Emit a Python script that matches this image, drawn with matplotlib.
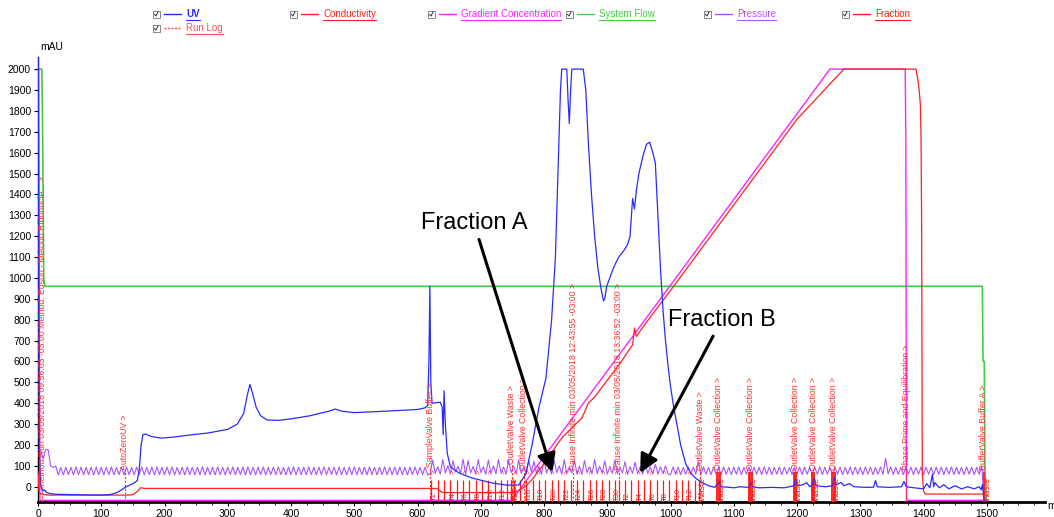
import numpy as np
import matplotlib
matplotlib.use("Agg")
import matplotlib.pyplot as plt
from matplotlib.lines import Line2D
from matplotlib.patches import Rectangle

plt.rcParams['font.family'] = ['Liberation Sans', 'DejaVu Sans']

# ---------------- data ----------------
uv_x = [0, 0.3, 2, 4, 7, 10, 14, 20, 30, 60, 100, 115, 125, 132, 138, 145, 152, 157, 160, 163,
        166, 170, 180, 195, 215, 240, 270, 300, 315, 325, 331, 335, 339, 345, 352, 362, 380, 400,
        430, 460, 470, 480, 500, 550, 600, 612, 616, 618, 619.5, 621, 623, 636, 639, 640.5, 642,
        644, 647, 652, 666, 686, 718, 740, 760, 771, 781, 792, 803, 812, 818, 822, 826, 828,
        836, 838, 840, 842, 844, 862, 866, 870, 875, 880, 885, 890, 894, 896, 899, 904, 910, 918,
        926, 932, 936, 940, 943, 946, 950, 956, 962, 967, 972, 976, 980, 984, 988, 992, 996, 1000,
        1005, 1010, 1016, 1024, 1032, 1040, 1050, 1060, 1070, 1074, 1077, 1080, 1090, 1100, 1110,
        1124, 1127, 1130, 1140, 1160, 1180, 1195, 1198, 1201, 1210, 1215, 1220, 1224, 1227, 1230,
        1245, 1256, 1259, 1262, 1270, 1274, 1283, 1290, 1310, 1321, 1324, 1327, 1345, 1365, 1369,
        1373, 1385, 1400, 1405, 1410, 1414, 1416, 1418, 1425, 1432, 1440, 1450, 1460, 1470, 1480,
        1488, 1491, 1493, 1496]
uv_y = [2100, 2100, 200, 10, -20, -15, -28, -33, -36, -38, -40, -37, -28, -15, -2, 8, 18, 30, 80, 200,
        250, 252, 240, 233, 238, 248, 258, 275, 300, 350, 440, 490, 450, 380, 340, 320, 318, 325,
        340, 362, 372, 362, 355, 362, 370, 378, 390, 600, 960, 500, 400, 405, 380, 250, 460,
        300, 160, 95, 65, 42, 18, 8, 8, 60, 200, 380, 520, 800, 1100, 1500, 1900, 2000,
        2000, 1850, 1740, 1900, 2000, 2000, 1900, 1650, 1400, 1200, 1050, 950, 890, 900, 960, 1000, 1050, 1100,
        1130, 1160, 1200, 1380, 1330, 1420, 1500, 1580, 1640, 1650, 1600, 1550, 1300, 1050, 850, 700, 580, 480,
        380, 300, 200, 110, 65, 40, 20, 5, -3, 15, 25, 0, -2, -5, 0,
        -3, 20, 0, -5, -3, -5, 5, 35, 5, 10, 20, 0, 10, 40, 5,
        0, 5, 45, 10, 20, 5, 15, 0, -3, -2, 30, 0, -3, 0, 25,
        0, -5, -10, 15, -5, 60, 0, 20, -5, 10, -10, 5, -10, 0, -10,
        0, -15, 10, -70]

cond_x = [0, 2, 5, 10, 20, 100, 140, 150, 158, 162, 170, 630, 640, 745, 755, 770, 780, 790, 800,
          810, 820, 830, 840, 850, 860, 870, 880, 890, 900, 920, 940, 943, 946, 960, 1000, 1100,
          1200, 1274, 1388, 1391, 1393, 1395, 1396, 1397, 1398, 1400, 1403, 1405, 1494, 1498]
cond_y = [70, -30, -35, -38, -40, -40, -40, -38, -20, -5, -8, -8, -28, -28, -25, 0, 30, 70, 110,
          150, 200, 240, 270, 300, 330, 400, 430, 470, 510, 590, 680, 760, 720, 780, 940, 1350,
          1760, 2000, 2000, 1950, 1900, 1830, 1670, 1250, 65, -20, -35, -35, -35, -70]

grad_x = [0, 1, 2, 3, 749, 1252, 1371, 1372, 1373, 1500]
grad_y = [2000, 2000, 950, -65, -65, 2000, 2000, 1660, -65, -65]

flow_x = [0, 6, 7, 9, 11, 1493, 1494, 1496, 1497, 1499]
flow_y = [2000, 2000, 1820, 1000, 960, 960, 600, 600, 100, -70]

pressure_step = 4  # ml between samples
pressure_y = [
    175, 178, 132, 178, 178, 100, 92, 100, 56, 92,
    57, 94, 58, 93, 57, 95, 58, 94, 57, 93,
    58, 94, 57, 95, 58, 93, 57, 94, 58, 95,
    57, 93, 58, 94, 57, 95, 58, 93, 57, 94,
    58, 95, 57, 93, 58, 94, 57, 95, 58, 93,
    57, 94, 58, 95, 57, 93, 58, 94, 57, 95,
    58, 93, 57, 94, 58, 95, 57, 93, 58, 94,
    57, 95, 58, 93, 57, 94, 58, 95, 57, 93,
    58, 94, 57, 95, 58, 93, 57, 94, 58, 95,
    57, 93, 58, 94, 57, 95, 58, 93, 57, 94,
    58, 95, 57, 93, 58, 94, 57, 95, 58, 93,
    57, 94, 58, 95, 57, 93, 58, 94, 57, 95,
    58, 93, 57, 94, 58, 95, 57, 93, 58, 94,
    57, 95, 58, 93, 57, 94, 58, 95, 57, 93,
    58, 94, 57, 95, 58, 93, 57, 94, 58, 95,
    57, 93, 58, 94, 57,
    62, 128, 64, 96, 60, 130, 66, 100, 62, 126,
    70, 98, 64, 132, 60, 125, 66, 97, 62, 130,
    68, 96, 60, 128, 64, 100, 62, 131, 66, 95,
    60, 127, 68, 99, 62, 130, 64, 96, 66, 126,
    70, 122, 64, 98, 60, 129, 66, 97, 62, 127,
    68, 100, 60, 130, 64, 94, 66, 128, 62, 99,
    60, 126, 68, 96, 64, 131, 62, 98, 66, 124,
    60, 97, 64, 128, 62, 95, 66, 120, 60, 96,
    64, 118, 62, 94, 60, 112, 64, 95, 62, 108,
    60, 96, 64, 100, 62,
    58, 95, 60, 94, 58, 93, 60, 95, 58, 94,
    60, 120, 58, 95, 60, 93, 58, 95, 60, 94,
    58, 95, 60, 93, 58, 94, 60, 95, 58, 93,
    60, 95, 58, 94, 60, 93, 58, 95, 60, 94,
    58, 93, 60, 95, 58, 94, 60, 93, 58, 95,
    60, 94, 58, 95, 60, 93, 58, 94, 60, 95,
    58, 94, 60, 93, 58, 95, 60, 94, 58, 93,
    60, 95, 58, 94, 60, 93, 58, 95, 60, 94,
    58, 93, 60, 95, 60, 137, 62, 95, 58, 94,
    60, 93, 58, 95, 60, 94, 58, 93, 60, 95,
    58, 94, 60, 93, 58, 95, 60, 94, 58, 93,
    60, 95, 58, 94, 60, 93, 58, 95, 60, 94,
    58, 93, 60, 100, -70,
]
pressure_x = np.arange(len(pressure_y)) * pressure_step

frac_ticks = [622, 632, 642, 652, 662, 672, 682, 692, 702, 712, 722, 732, 742, 748, 752, 762, 772,
              782, 792, 802, 812, 822, 832, 842, 852, 862, 872, 882, 892, 902, 912,
              918, 928, 938, 948, 958, 968, 978, 988, 998, 1008, 1018, 1028, 1038, 1045]
frac_thick = [1074, 1076, 1078, 1124, 1126, 1128, 1195, 1197, 1199, 1223, 1225, 1227,
              1256, 1258, 1260, 1496]
frac_label_x = [622, 652, 672, 692, 712, 732, 752, 772, 792, 812, 832, 852, 872, 892, 912,
                928, 948, 968, 988, 1008, 1028]
frac_labels = ["T1", "T4", "T6", "T8", "T10", "T12", "T14", "T16", "T18", "T20", "T22", "T24",
               "T26", "T28", "T30", "T2", "T4", "T6", "T8", "T10", "T12"]
waste_x = [748, 1045, 1076, 1126, 1197, 1225, 1258, 1496]

runlog_x = [7, 137, 620, 749, 768, 846, 918, 1047, 1076, 1126, 1197, 1226, 1258, 1373, 1494]
runlog_text = [
    "Method Run 03/05/2018 09:56:03 -03:00 Method: Edson - Método Ribonucle... >",
    "AutoZeroUV >",
    "SampleValve Buffer >",
    "OutletValve Waste >",
    "OutletValve Collection >",
    "Pause Infinite min 03/05/2018 12:43:55 -03:00 >",
    "Pause Infinite min 03/05/2018 13:36:52 -03:00 >",
    "OutletValve Waste >",
    "OutletValve Collection >",
    "OutletValve Collection >",
    "OutletValve Collection >",
    "OutletValve Collection >",
    "OutletValve Collection >",
    "Phase Prime and Equilibration >",
    "BufferValve Buffer A >",
]
runlog_base = [-5, 80, 95, 110, 80, 80, 80, 80, 80, 80, 80, 80, 80, 80, 80]

y_ticks = list(range(0, 2001, 100))
x_ticks = list(range(0, 1501, 100))

# ---------------- colours ----------------
C_UV = "#2a2aff"
C_COND = "#ff2020"
C_GRAD = "#ff22ff"
C_FLOW = "#44cc44"
C_PRES = "#a855ff"
C_FRAC = "#ff1a1a"
C_LOG = "#ff3030"

W, H = 1054, 517
fig = plt.figure(figsize=(W / 100, H / 100), dpi=100)
fig.patch.set_facecolor("white")

x0p, x1p, y0p, y1p = 38, 1045, 502, 57
ax = fig.add_axes([x0p / W, (H - y0p) / H, (x1p - x0p) / W, (y0p - y1p) / H])
ax.set_xlim(0, 1592)
ax.set_ylim(-73, 2058)

ax.plot(flow_x, flow_y, color=C_FLOW, lw=1.2, zorder=2)
ax.plot(grad_x, grad_y, color=C_GRAD, lw=1.0, zorder=3)
ax.plot(cond_x, cond_y, color=C_COND, lw=0.9, zorder=4)
ax.plot(pressure_x, pressure_y, color=C_PRES, lw=0.8, zorder=3)
ax.plot(uv_x, uv_y, color=C_UV, lw=0.9, zorder=5)

# fraction ticks
ax.vlines(frac_ticks, -73, 30, color=C_FRAC, lw=0.9, zorder=4)
ax.vlines(frac_thick, -73, 70, color=C_FRAC, lw=1.3, zorder=4)
for fx, fl in zip(frac_label_x, frac_labels):
    ax.text(fx + 4, -66, fl, rotation=90, fontsize=5.5, color=C_FRAC, ha="center", va="bottom", zorder=6)
    ax.text(fx + 4, 60, ">", rotation=90, fontsize=5.5, color=C_LOG, ha="center", va="bottom", zorder=6)
for wx in waste_x:
    ax.text(wx + 5, -70, "Waste", rotation=90, fontsize=6.2, color=C_FRAC, ha="center", va="bottom", zorder=6)

# run log
for rx, rt, rb in zip(runlog_x, runlog_text, runlog_base):
    ax.plot([rx, rx], [-73, rb], color=C_LOG, lw=0.8, ls=(0, (2, 1.5)), zorder=4)
    ax.text(rx, rb, rt, rotation=90, fontsize=6.3, color=C_LOG, ha="center", va="bottom", zorder=6)

# axes styling
for s in ["top", "right"]:
    ax.spines[s].set_visible(False)
ax.spines["left"].set_linewidth(1.0)
ax.spines["bottom"].set_linewidth(2.0)
ax.set_xticks(x_ticks)
ax.set_xticks(list(range(0, 1592, 25)), minor=True)
ax.set_yticks(y_ticks)
ax.tick_params(axis="both", labelsize=7.5, length=3, width=0.8, colors="black", pad=2)
ax.tick_params(axis="x", which="minor", length=2, width=0.6)
ax.set_xticklabels([str(v) for v in x_ticks])
ax.set_yticklabels([str(v) for v in y_ticks])

fig.text(40 / W, 1 - 47 / H, "mAU", fontsize=7.5, ha="left", va="center")
fig.text(1047 / W, 1 - 506 / H, "ml", fontsize=7.5, ha="left", va="center")

# annotations
ax.annotate("Fraction A", xy=(813, 70), xytext=(689, 1263), fontsize=17, ha="center", va="center",
            arrowprops=dict(arrowstyle="-|>", color="black", lw=2.2, mutation_scale=28,
                            shrinkA=2, shrinkB=0), zorder=10)
ax.annotate("Fraction B", xy=(952, 66), xytext=(1081, 799), fontsize=17, ha="center", va="center",
            arrowprops=dict(arrowstyle="-|>", color="black", lw=2.2, mutation_scale=28,
                            shrinkA=2, shrinkB=0), zorder=10)

# legend drawn manually
legend_items = [
    (156, 14, "UV", C_UV, "-"),
    (293, 14, "Conductivity", C_COND, "-"),
    (431, 14, "Gradient Concentration", C_GRAD, "-"),
    (569, 14, "System Flow", C_FLOW, "-"),
    (707, 14, "Pressure", C_PRES, "-"),
    (845, 14, "Fraction", C_FRAC, "-"),
    (156, 28, "Run Log", "#ff5050", ":"),
]
for cx, cy, lab, col, ls in legend_items:
    fig.patches.append(Rectangle(((cx - 3.5) / W, 1 - (cy + 3.5) / H), 7 / W, 7 / H,
                                 transform=fig.transFigure, facecolor="white",
                                 edgecolor="#888888", lw=0.7))
    fig.lines.append(Line2D([(cx - 1.5) / W, (cx) / W, (cx + 2) / W],
                            [1 - (cy + 0.5) / H, 1 - (cy + 2) / H, 1 - (cy - 2) / H],
                            transform=fig.transFigure, color="#333333", lw=0.7))
    fig.lines.append(Line2D([(cx + 8) / W, (cx + 25) / W], [1 - cy / H, 1 - cy / H],
                            transform=fig.transFigure, color=col, lw=1.0,
                            ls=ls if ls == "-" else (0, (1.5, 1))))
    t = fig.text((cx + 30) / W, 1 - cy / H, lab, fontsize=7, color=col, ha="left", va="center",
                 fontweight="bold" if lab == "UV" else "normal")
    fig.canvas.draw()
    bb = t.get_window_extent()
    fig.lines.append(Line2D([bb.x0 / W, bb.x1 / W], [(bb.y0 - 1) / H, (bb.y0 - 1) / H],
                            transform=fig.transFigure, color=col, lw=0.8))

fig.savefig("out.png", dpi=100, facecolor="white")
